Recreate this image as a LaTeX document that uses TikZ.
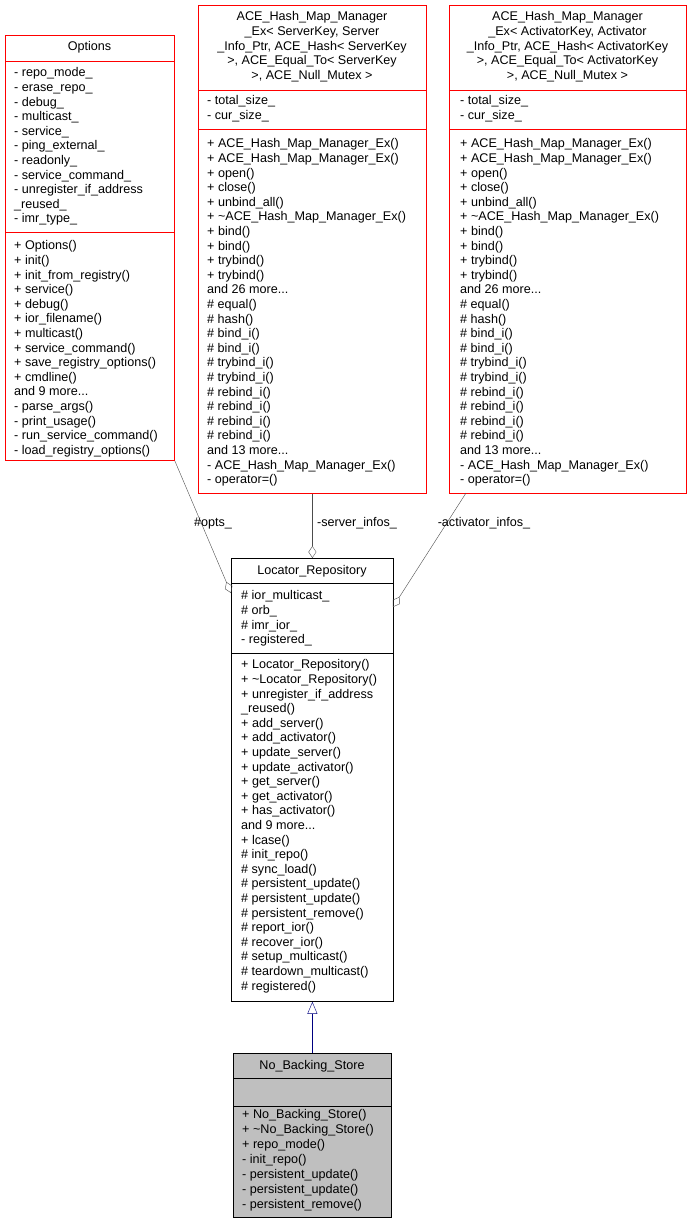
\documentclass[tikz,border=0pt]{standalone}
\usepackage{fontspec}
\setmainfont{Liberation Sans}
\usetikzlibrary{arrows.meta}
\begin{document}
\begin{tikzpicture}[x=1pt,y=-1pt,
  box/.style={draw,anchor=north west,inner sep=0pt,line width=0.8pt},
  rbox/.style={box,draw=red},
  txt/.style={anchor=north west,inner sep=0pt,align=left,font=\fontsize{12.6}{14.6}\selectfont},
  ttl/.style={anchor=north,inner sep=0pt,align=center,font=\fontsize{12.6}{14.6}\selectfont},
  lbl/.style={font=\fontsize{12.6}{14.6}\selectfont,inner sep=1pt},
  agg/.style={draw=black!70,{Diamond[open,length=12pt,width=8pt]}-},
  inh/.style={draw=blue!50!black,{Triangle[open,length=12pt,width=10pt]}-}]
\useasboundingbox (0,0) rectangle (691,1224);
% Options
\node[rbox,minimum width=169pt,minimum height=425pt] (opt) at (5,35) {};
\draw[red,line width=0.8pt] (5,61) -- (174,61) (5,232) -- (174,232);
\node[ttl] (optt) at (89.5,41.5) {Options};
\node[txt] (opta) at (14,67.5) {- repo\_mode\_\\- erase\_repo\_\\- debug\_\\- multicast\_\\- service\_\\- ping\_external\_\\- readonly\_\\- service\_command\_\\- unregister\_if\_address\\\_reused\_\\- imr\_type\_};
\node[txt] (optm) at (14,240.5) {+ Options()\\+ init()\\+ init\_from\_registry()\\+ service()\\+ debug()\\+ ior\_filename()\\+ multicast()\\+ service\_command()\\+ save\_registry\_options()\\+ cmdline()\\and 9 more...\\- parse\_args()\\- print\_usage()\\- run\_service\_command()\\- load\_registry\_options()};
% Hash1
\node[rbox,minimum width=228pt,minimum height=488pt] (h1) at (198,5) {};
\draw[red,line width=0.8pt] (198,90) -- (426,90) (198,129) -- (426,129);
\node[ttl] (h1t) at (312,11.5) {ACE\_Hash\_Map\_Manager\\\_Ex< ServerKey, Server\\\_Info\_Ptr, ACE\_Hash< ServerKey\\ >, ACE\_Equal\_To< ServerKey\\ >, ACE\_Null\_Mutex >};
\node[txt] (h1a) at (207,95.5) {- total\_size\_\\- cur\_size\_};
\node[txt] (h1m) at (207,138.5) {+ ACE\_Hash\_Map\_Manager\_Ex()\\+ ACE\_Hash\_Map\_Manager\_Ex()\\+ open()\\+ close()\\+ unbind\_all()\\+ \textasciitilde ACE\_Hash\_Map\_Manager\_Ex()\\+ bind()\\+ bind()\\+ trybind()\\+ trybind()\\and 26 more...\\\# equal()\\\# hash()\\\# bind\_i()\\\# bind\_i()\\\# trybind\_i()\\\# trybind\_i()\\\# rebind\_i()\\\# rebind\_i()\\\# rebind\_i()\\\# rebind\_i()\\and 13 more...\\- ACE\_Hash\_Map\_Manager\_Ex()\\- operator=()};
% Hash2
\node[rbox,minimum width=237pt,minimum height=488pt] (h2) at (449,5) {};
\draw[red,line width=0.8pt] (449,90) -- (686,90) (449,129) -- (686,129);
\node[ttl] (h2t) at (567.5,11.5) {ACE\_Hash\_Map\_Manager\\\_Ex< ActivatorKey, Activator\\\_Info\_Ptr, ACE\_Hash< ActivatorKey\\ >, ACE\_Equal\_To< ActivatorKey\\ >, ACE\_Null\_Mutex >};
\node[txt] (h2a) at (460,95.5) {- total\_size\_\\- cur\_size\_};
\node[txt] (h2m) at (460,138.5) {+ ACE\_Hash\_Map\_Manager\_Ex()\\+ ACE\_Hash\_Map\_Manager\_Ex()\\+ open()\\+ close()\\+ unbind\_all()\\+ \textasciitilde ACE\_Hash\_Map\_Manager\_Ex()\\+ bind()\\+ bind()\\+ trybind()\\+ trybind()\\and 26 more...\\\# equal()\\\# hash()\\\# bind\_i()\\\# bind\_i()\\\# trybind\_i()\\\# trybind\_i()\\\# rebind\_i()\\\# rebind\_i()\\\# rebind\_i()\\\# rebind\_i()\\and 13 more...\\- ACE\_Hash\_Map\_Manager\_Ex()\\- operator=()};
% Locator
\node[box,minimum width=162pt,minimum height=443pt] (loc) at (231,558) {};
\draw[line width=0.8pt] (231,583) -- (393,583) (231,653) -- (393,653);
\node[ttl] (loct) at (312,565.5) {Locator\_Repository};
\node[txt] (loca) at (241,590.5) {\# ior\_multicast\_\\\# orb\_\\\# imr\_ior\_\\- registered\_};
\node[txt] (locm) at (241,659.5) {+ Locator\_Repository()\\+ \textasciitilde Locator\_Repository()\\+ unregister\_if\_address\\\_reused()\\+ add\_server()\\+ add\_activator()\\+ update\_server()\\+ update\_activator()\\+ get\_server()\\+ get\_activator()\\+ has\_activator()\\and 9 more...\\+ lcase()\\\# init\_repo()\\\# sync\_load()\\\# persistent\_update()\\\# persistent\_update()\\\# persistent\_remove()\\\# report\_ior()\\\# recover\_ior()\\\# setup\_multicast()\\\# teardown\_multicast()\\\# registered()};
% No_Backing_Store
\node[box,fill=black!25,minimum width=158pt,minimum height=164pt] (nbs) at (233,1053) {};
\draw[line width=0.8pt] (233,1078) -- (391,1078) (233,1106) -- (391,1106);
\node[ttl] (nbst) at (312,1060.5) {No\_Backing\_Store};
\node[txt,font=\fontsize{12.6}{15}\selectfont] (nbsm) at (242,1109.5) {+ No\_Backing\_Store()\\+ \textasciitilde No\_Backing\_Store()\\+ repo\_mode()\\- init\_repo()\\- persistent\_update()\\- persistent\_update()\\- persistent\_remove()};
% connectors
\coordinate (d1) at (231,593);
\coordinate (d3) at (393,607);
\draw[agg] (d1) -- (opt.south east);
\draw[agg] (loc.north) -- (h1.south);
\draw[agg] (d3) -- (466,493);
\draw[inh] (loc.south) -- (nbs.north);
\node[lbl] (l1) at (213,523) {\#opts\_};
\node[lbl] (l2) at (357,523) {-server\_infos\_};
\node[lbl] (l3) at (484,523) {-activator\_infos\_};
\end{tikzpicture}
\end{document}
